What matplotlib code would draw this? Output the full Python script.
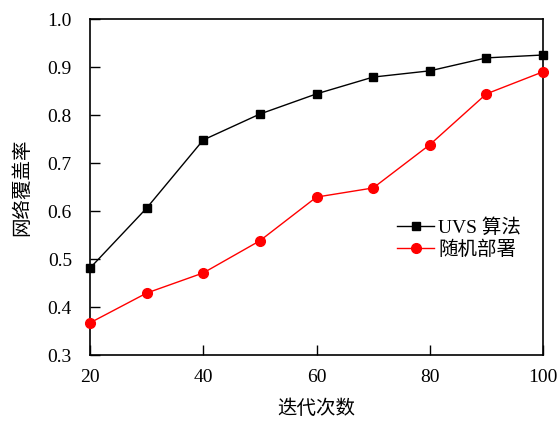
import matplotlib
matplotlib.use("Agg")
import matplotlib.pyplot as plt

x = [20, 30, 40, 50, 60, 70, 80, 90, 100]
uvs = [0.481, 0.606, 0.748, 0.802, 0.844, 0.879, 0.892, 0.919, 0.925]
rand = [0.367, 0.429, 0.471, 0.538, 0.629, 0.648, 0.738, 0.844, 0.890]
labels = ["UVS 算法", "随机部署"]
xlabel = "迭代次数"
ylabel = "网络覆盖率"

fam = ['Liberation Serif', 'Noto Sans CJK SC']
plt.rcParams['font.family'] = fam
plt.rcParams['mathtext.fontset'] = 'stix'

fig = plt.figure(figsize=(5.58, 4.21), dpi=100)
ax = fig.add_axes([90/558, 1-355/421, (543-90)/558, (355-19)/421])
ax.plot(x, uvs, color='black', marker='s', markersize=6, lw=1.0, label=labels[0], clip_on=False, zorder=3)
ax.plot(x, rand, color='red', marker='o', markersize=7, lw=1.0, label=labels[1], clip_on=False, zorder=3)
ax.set_xlim(20, 100)
ax.set_ylim(0.3, 1.0)
ax.set_xticks([20, 40, 60, 80, 100])
ax.set_yticks([0.3, 0.4, 0.5, 0.6, 0.7, 0.8, 0.9, 1.0])
ax.set_yticklabels([f"{v:.1f}" for v in [0.3, 0.4, 0.5, 0.6, 0.7, 0.8, 0.9, 1.0]])
ax.tick_params(direction='in', length=7, width=1, labelsize=14)
ax.tick_params(axis='y', pad=13)
ax.tick_params(axis='x', pad=10)
for s in ax.spines.values():
    s.set_linewidth(1.2)
ax.set_xlabel(xlabel, fontsize=14, family=['Noto Sans CJK SC'], labelpad=9)
ax.set_ylabel(ylabel, fontsize=14, family=['Noto Sans CJK SC'], labelpad=11)
ax.legend(loc='upper left', bbox_to_anchor=(0.661, 0.43), frameon=False, fontsize=14,
          handlelength=1.9, handletextpad=0.2, labelspacing=0.2, borderaxespad=0)
fig.savefig("out.png", dpi=100)
